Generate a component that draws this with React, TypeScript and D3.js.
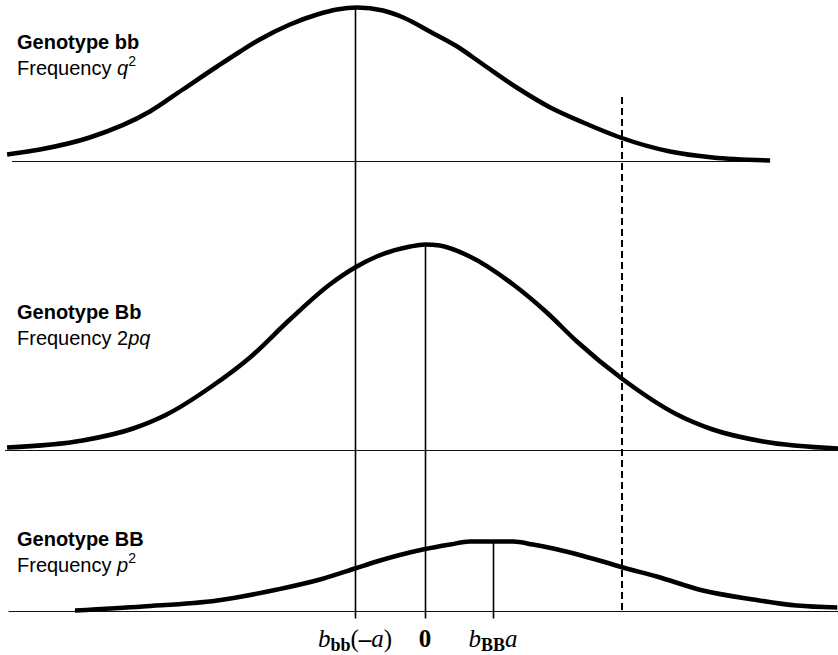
import React from "react";
import * as d3 from "d3";

// Phenotype axis (units of a, 0 = midpoint), density heights (arbitrary units)
const bbX = [-5.97, -5.5, -4.79, -3.93, -3.46, -2.97, -2.64, -2.36, -1.93, -1.54, -1.26, -0.97, -0.6, -0.31, 0.07, 0.46, 0.83, 1.31, 1.79, 2.26, 2.79, 3.5, 4.11, 4.93];
const bbY = [0.035, 0.06, 0.12, 0.25, 0.36, 0.475, 0.55, 0.61, 0.685, 0.735, 0.76, 0.77, 0.755, 0.72, 0.65, 0.575, 0.485, 0.37, 0.27, 0.195, 0.12, 0.05, 0.02, 0.005];

const BbX = [-5.97, -4.89, -4.17, -3.69, -3.07, -2.5, -1.93, -1.36, -1.0, -0.69, -0.21, 0, 0.21, 0.64, 1.26, 1.74, 2.17, 2.83, 3.6, 4.11, 4.83, 5.9];
const BbY = [0.015, 0.05, 0.11, 0.18, 0.315, 0.465, 0.655, 0.83, 0.915, 0.97, 1.02, 1.03, 1.025, 0.97, 0.83, 0.69, 0.545, 0.355, 0.18, 0.105, 0.045, 0.01];

const BBX = [-5.0, -4.03, -2.97, -2.11, -1.5, -1.0, -0.69, -0.03, 0.36, 0.64, 1.26, 1.54, 1.83, 2.54, 2.83, 3.31, 3.97, 4.69, 5.31, 5.89];
const BBY = [0.005, 0.025, 0.055, 0.11, 0.16, 0.215, 0.25, 0.31, 0.335, 0.35, 0.35, 0.335, 0.315, 0.25, 0.22, 0.175, 0.105, 0.06, 0.03, 0.02];

const genotypes = ["bb", "Bb", "BB"];
const freqWords = ["q", "2pq", "p"];
const meanBb = -1; // b_bb(-a)
const meanHet = 0;
const meanBB = 0.97; // b_BB a
const threshold = 2.81;
const peakTop = [0.77, 1.03, 0.35];
const axisStart = [-5.9, -6.0, -5.95];
const axisEnd = [4.9, 6.0, 6.0];

const W = 838;
const H = 655;

export default function App() {
  const x = d3.scaleLinear().domain([-6, 6]).range([5, 845]);
  const baselines = [161.5, 450.5, 611.5];
  const ys = baselines.map((b) => d3.scaleLinear().domain([0, 1]).range([b, b - 200]));
  const series = [
    bbX.map((v, i) => [v, bbY[i]]),
    BbX.map((v, i) => [v, BbY[i]]),
    BBX.map((v, i) => [v, BBY[i]]),
  ];
  const lines = series.map((s, k) =>
    d3
      .line<number[]>()
      .x((d) => x(d[0]))
      .y((d) => ys[k](d[1]))
      .curve(d3.curveMonotoneX)(s)
  );
  const means = [meanBb, meanHet, meanBB];
  const tickBottom = baselines[2] + 7;
  const sans = "'Liberation Sans', Arial, Helvetica, sans-serif";
  const serif = "'Liberation Serif', 'Times New Roman', Times, serif";
  const labelY = [49, 319, 546];

  return (
    <svg
      width={W}
      height={H}
      style={{ position: "absolute", left: 0, top: 0, background: "#fff" }}
    >
      {baselines.map((b, k) => (
        <line
          key={"base" + k}
          x1={x(axisStart[k])}
          x2={x(axisEnd[k])}
          y1={b}
          y2={b}
          stroke="#111"
          strokeWidth={1}
        />
      ))}
      {means.map((m, k) => (
        <line
          key={"mean" + k}
          x1={Math.round(x(m)) + 0.5}
          x2={Math.round(x(m)) + 0.5}
          y1={ys[k](peakTop[k])}
          y2={tickBottom}
          stroke="#000"
          strokeWidth={1.6}
        />
      ))}
      <line
        x1={Math.round(x(threshold))}
        x2={Math.round(x(threshold))}
        y1={97}
        y2={baselines[2]}
        stroke="#000"
        strokeWidth={2}
        strokeDasharray="7,4"
      />
      {lines.map((d, k) => (
        <path
          key={"curve" + k}
          d={d || ""}
          fill="none"
          stroke="#000"
          strokeWidth={4.5}
          strokeLinejoin="round"
          strokeLinecap="butt"
        />
      ))}
      {genotypes.map((g, k) => (
        <g key={"lab" + k} fontFamily={sans} fontSize={20} fill="#000">
          <text x={17} y={labelY[k]} fontWeight="bold">
            {"Genotype " + g}
          </text>
          <text x={17} y={labelY[k] + 26}>
            {"Frequency "}
            {k === 1 ? (
              <>
                <tspan>2</tspan>
                <tspan fontStyle="italic">pq</tspan>
              </>
            ) : (
              <>
                <tspan fontStyle="italic">{freqWords[k]}</tspan>
                <tspan fontSize={14} dy={-9}>
                  2
                </tspan>
              </>
            )}
          </text>
        </g>
      ))}
      <g fontFamily={serif} fontSize={25} fill="#000" textAnchor="middle">
        <text x={x(meanBb)} y={647}>
          <tspan fontStyle="italic">b</tspan>
          <tspan fontWeight="bold" fontSize={18} dy={4}>
            bb
          </tspan>
          <tspan dy={-4}>(</tspan>
          <tspan fontWeight="bold">–</tspan>
          <tspan fontStyle="italic">a</tspan>
          <tspan>)</tspan>
        </text>
        <text x={x(meanHet)} y={647} fontWeight="bold">
          0
        </text>
        <text x={x(meanBB)} y={647}>
          <tspan fontStyle="italic">b</tspan>
          <tspan fontWeight="bold" fontSize={18} dy={4}>
            BB
          </tspan>
          <tspan fontStyle="italic" dy={-4}>
            a
          </tspan>
        </text>
      </g>
    </svg>
  );
}
